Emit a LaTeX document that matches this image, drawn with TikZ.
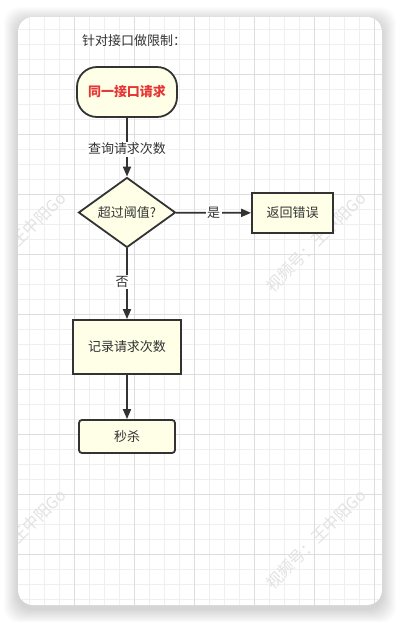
\documentclass[tikz,border=0pt]{standalone}
\usepackage{fontspec}
\setmainfont{Noto Sans CJK SC}
\usetikzlibrary{shapes.geometric,arrows.meta}
\definecolor{ink}{HTML}{333333}
\definecolor{boxfill}{HTML}{FFFFE8}
\definecolor{redtxt}{HTML}{E53535}
\definecolor{gridminor}{HTML}{EFEFEF}
\definecolor{gridmajor}{HTML}{DDDDDD}
\definecolor{wm}{HTML}{E2E2E2}
\begin{document}
\begin{tikzpicture}[x=1pt,y=-1pt,font=\fontsize{13}{15}\selectfont,
  box/.style={draw=ink, line width=1.8pt, fill=boxfill, text=ink, inner sep=0pt, align=center},
  arrow/.style={draw=ink, line width=1.8pt, -{Triangle[length=10pt,width=8pt]}},
  lbl/.style={fill=white, text=ink, inner sep=1.5pt},
  wmark/.style={text=wm, rotate=45, font=\fontsize{16}{16}\selectfont}]
\useasboundingbox (0,0) rectangle (400,622);
% shadow
\foreach \i in {1,...,14}
  \fill[black, opacity=0.012, rounded corners=16pt] (18-\i,21-\i) rectangle (382+\i,609+\i);
% card
\fill[white, rounded corners=15pt] (18,17) rectangle (382,605);
\begin{scope}
  \clip[rounded corners=15pt] (18,17) rectangle (382,605);
  \foreach \x in {14,29,...,389} \draw[gridminor, line width=1pt] (\x,0) -- (\x,622);
  \foreach \y in {14,29,...,614} \draw[gridminor, line width=1pt] (0,\y) -- (400,\y);
  \foreach \x in {14,74,...,374} \draw[gridmajor, line width=1pt] (\x,0) -- (\x,622);
  \foreach \y in {14,74,...,614} \draw[gridmajor, line width=1pt] (0,\y) -- (400,\y);
  \node[wmark] (wm1) at (316,242) {视频号：王中阳Go};
  \node[wmark] (wm2) at (316,539) {视频号：王中阳Go};
  \node[wmark] (wm3) at (16,242) {视频号：王中阳Go};
  \node[wmark] (wm4) at (16,539) {视频号：王中阳Go};
\end{scope}
% title
\node[text=ink, anchor=west, inner sep=0pt] (title) at (82,41) {针对接口做限制：};
% nodes
\node[box, rounded corners=20pt, minimum width=100pt, minimum height=50pt, text=redtxt,
      font=\fontsize{13}{15}\selectfont\bfseries] (start) at (127,92) {同一接口请求};
\node[box, diamond, aspect=1.386, minimum width=97pt, minimum height=70pt] (dec) at (127,212.5) {超过阈值?};
\node[box, minimum width=81pt, minimum height=40pt] (err) at (292.5,213) {返回错误};
\node[box, minimum width=108pt, minimum height=54pt] (rec) at (127,347) {记录请求次数};
\node[box, rounded corners=3pt, minimum width=96pt, minimum height=33pt] (kill) at (127,436.5) {秒杀};
% connectors
\draw[arrow] (start) -- node[lbl, pos=0.53] (l1) {查询请求次数} (dec);
\draw[arrow] (dec) -- node[lbl] (l2) {是} (err);
\draw[arrow] (dec) -- node[lbl, xshift=-5pt, pos=0.48] (l3) {否} (rec);
\draw[arrow] (rec) -- (kill);
\end{tikzpicture}
\end{document}
